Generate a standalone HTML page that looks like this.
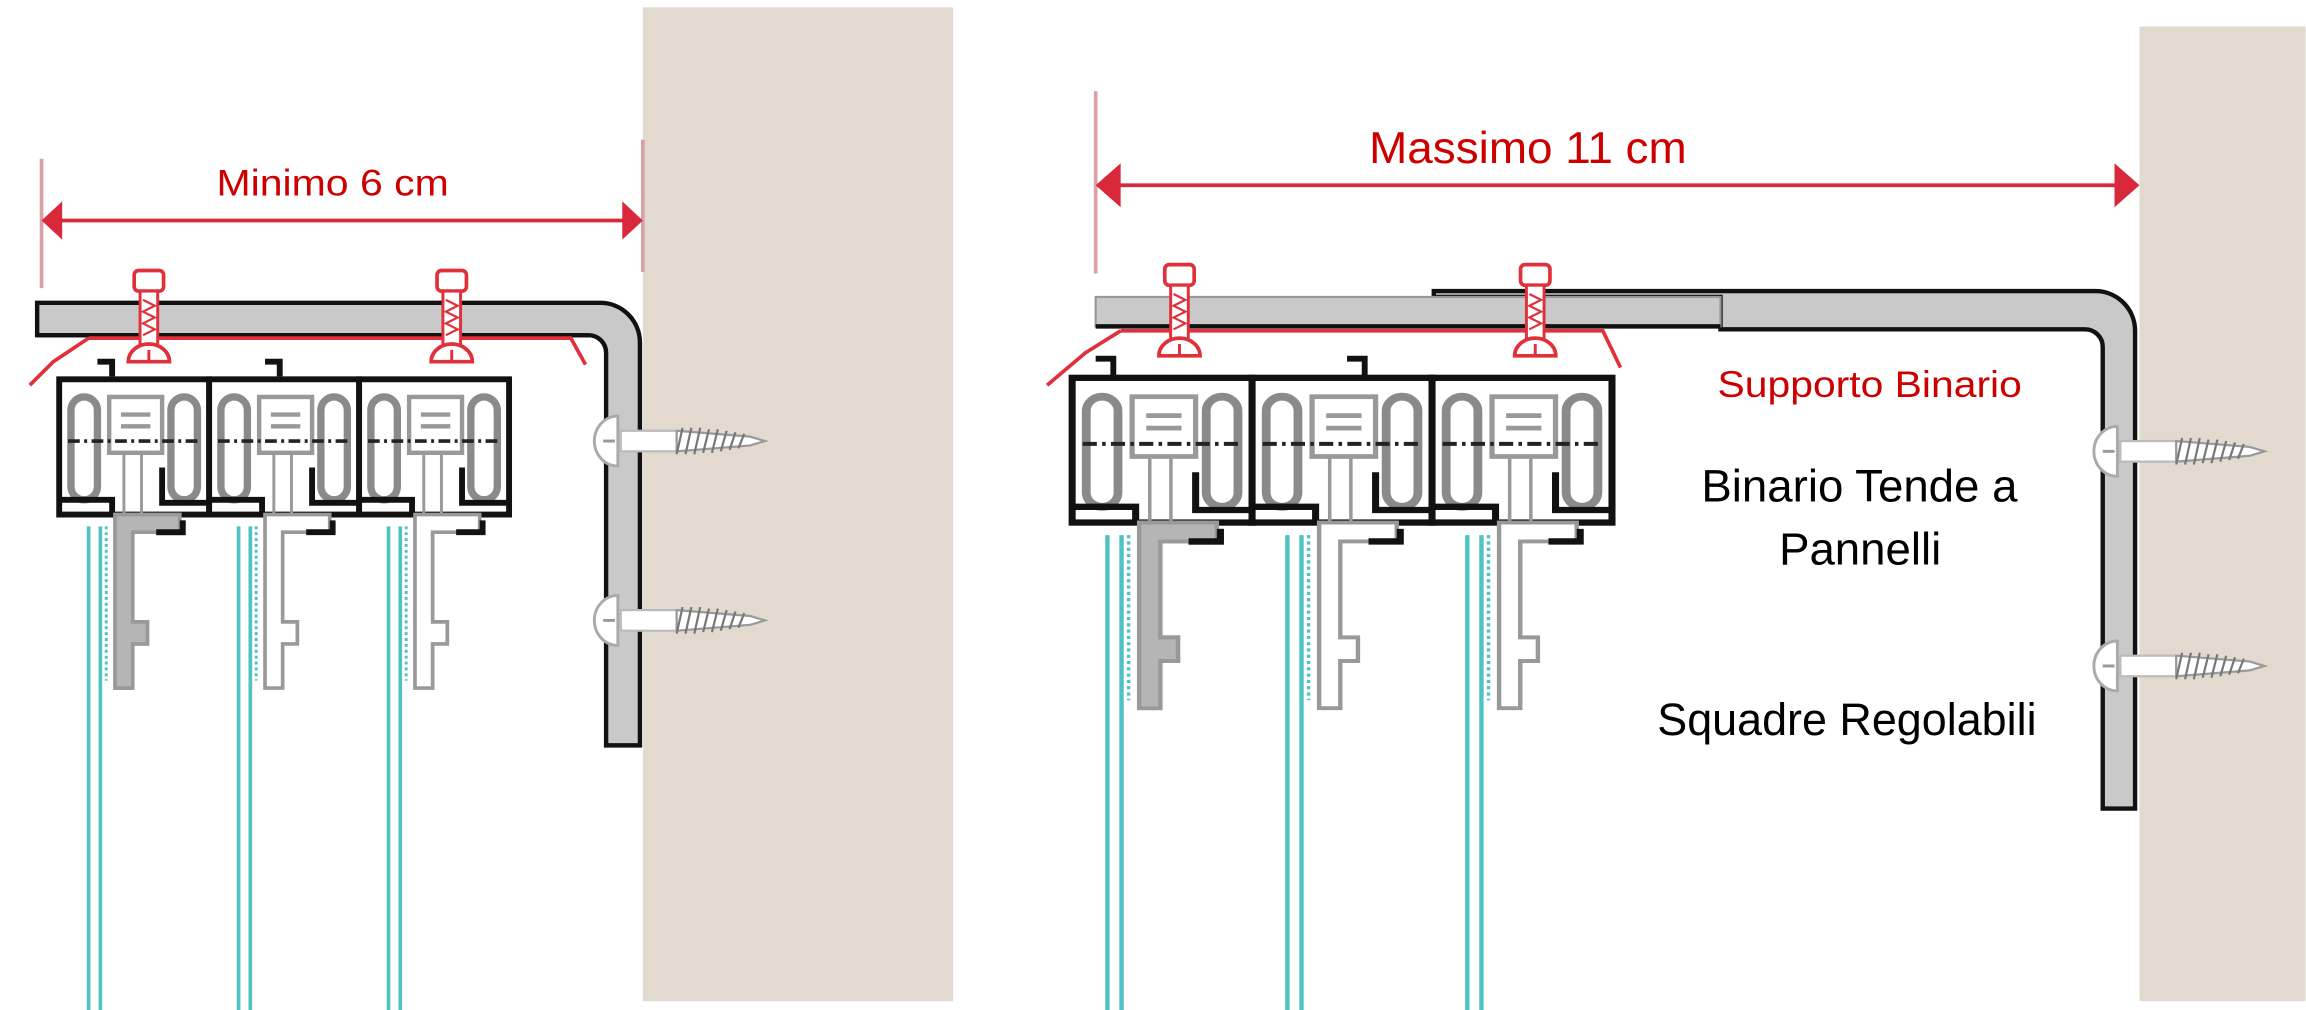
<!DOCTYPE html>
<html><head><meta charset="utf-8"><style>
html,body{margin:0;padding:0;background:#fff}
svg{display:block}
text{font-family:"Liberation Sans",sans-serif}
</style></head><body>
<svg width="2306" height="1010" viewBox="0 0 1568 687" xmlns="http://www.w3.org/2000/svg">
<defs>
<g id="unit">
  <rect x="0" y="0" width="102" height="92" fill="#fff" stroke="#111" stroke-width="4"/>
  <rect x="8" y="12" width="18" height="70" rx="9" fill="none" stroke="#8a8a8a" stroke-width="5"/>
  <rect x="76" y="12" width="18" height="70" rx="9" fill="none" stroke="#8a8a8a" stroke-width="5"/>
  <rect x="34" y="12" width="36" height="38" fill="none" stroke="#999" stroke-width="3"/>
  <line x1="42" y1="24" x2="62" y2="24" stroke="#999" stroke-width="3"/>
  <line x1="42" y1="32" x2="62" y2="32" stroke="#999" stroke-width="3"/>
  <line x1="6" y1="42" x2="96" y2="42" stroke="#222" stroke-width="2.5" stroke-dasharray="8 3 2 3"/>
  <line x1="44" y1="50" x2="44" y2="92" stroke="#999" stroke-width="2"/>
  <line x1="56" y1="50" x2="56" y2="92" stroke="#999" stroke-width="2"/>
  <path d="M0 82 L36 82 L36 92" fill="none" stroke="#111" stroke-width="4"/>
  <path d="M70 60 L70 84 L102 84" fill="none" stroke="#111" stroke-width="4"/>
  <path d="M38 92 H82 V104 H50 V165 H60 V180 H50 V210 H38 Z" fill="#fff" stroke="#999" stroke-width="2.5"/>
  <path d="M66 104 H84 V96" fill="none" stroke="#111" stroke-width="4"/>
  <line x1="20" y1="100" x2="20" y2="430" stroke="#4fc2c4" stroke-width="2.5"/>
  <line x1="28" y1="100" x2="28" y2="430" stroke="#4fc2c4" stroke-width="2.5"/>
  <line x1="32" y1="100" x2="32" y2="205" stroke="#4fc2c4" stroke-width="2" stroke-dasharray="2 2"/>
</g>
<g id="unitg">
  <use href="#unit"/>
  <path d="M38 92 H82 V104 H50 V165 H60 V180 H50 V210 H38 Z" fill="#b5b5b5" stroke="#999" stroke-width="2.5"/>
  <path d="M66 104 H84 V96" fill="none" stroke="#111" stroke-width="4"/>
</g>
<g id="screw">
  <path d="M0 -17 A16 17 0 0 0 0 17 Z" fill="#fff" stroke="#aaa" stroke-width="2"/>
  <line x1="-10" y1="0" x2="-2" y2="0" stroke="#999" stroke-width="2"/>
  <rect x="2" y="-7" width="38" height="14" fill="#fff" stroke="#bbb" stroke-width="1.5"/>
  <path d="M40 -7 L90 -3 L100 0 L90 3 L40 7 Z" fill="#fff" stroke="#999" stroke-width="1.5"/>
  <path d="M44 -9 l-4 18 M50 -9 l-4 18 M56 -9 l-4 18 M62 -8 l-4 16 M68 -8 l-4 16 M74 -7 l-4 14 M80 -6 l-4 12 M86 -5 l-4 10" stroke="#777" stroke-width="1.5"/>
</g>
<g id="bolt">
  <rect x="-10" y="-20" width="20" height="14" rx="3" fill="none" stroke="#e0303a" stroke-width="2.5"/>
  <rect x="-6" y="-6" width="12" height="38" fill="#fff" stroke="#e0303a" stroke-width="2"/>
  <path d="M-4 0 l8 4 l-8 4 l8 4 l-8 4 l8 4 l-8 4" fill="none" stroke="#e0303a" stroke-width="1.5"/>
  <path d="M-14 42 A14 12 0 0 1 14 42 Z" fill="#fff" stroke="#e0303a" stroke-width="2.5"/>
  <line x1="0" y1="34" x2="0" y2="42" stroke="#e0303a" stroke-width="2"/>
</g>
</defs>

<!-- LEFT -->
<rect x="437" y="5" width="211" height="676" fill="#e2dace"/>
<line x1="28" y1="108" x2="28" y2="196" stroke="#d9a0a8" stroke-width="2.5"/>
<line x1="437" y1="95" x2="437" y2="185" stroke="#d9a0a8" stroke-width="2.5"/>
<line x1="38" y1="150" x2="428" y2="150" stroke="#d8283a" stroke-width="2.5"/>
<path d="M28 150 L42 137 L42 163 Z" fill="#d8283a"/>
<path d="M437 150 L423 137 L423 163 Z" fill="#d8283a"/>
<text x="147" y="133" textLength="158" lengthAdjust="spacingAndGlyphs" font-size="25" fill="#c00">Minimo 6 cm</text>

<path d="M25 206 H408 A27 27 0 0 1 435 233 V507 H412 V240 A12 12 0 0 0 400 228 H25 Z" fill="#c9c9c9" stroke="#111" stroke-width="3"/>
<path d="M25 228 H400" stroke="#111" stroke-width="3"/>
<path d="M60 230 H388 L398 248 M60 230 L36 246 L20 262" fill="none" stroke="#e0303a" stroke-width="2.5"/>
<use href="#bolt" x="101" y="204"/>
<use href="#bolt" x="307" y="204"/>
<path d="M66 246 H76 V256 M180 246 H190 V256" fill="none" stroke="#111" stroke-width="4"/>
<g transform="translate(40,258)">
  <use href="#unitg" x="0" y="0"/><use href="#unit" x="102" y="0"/><use href="#unit" x="204" y="0"/>
</g>
<use href="#screw" x="420" y="300"/>
<use href="#screw" x="420" y="422"/>

<!-- RIGHT -->
<rect x="1455" y="18" width="113" height="663" fill="#e2dace"/>
<line x1="745" y1="62" x2="745" y2="186" stroke="#d9a0a8" stroke-width="2.5"/>
<line x1="756" y1="126" x2="1445" y2="126" stroke="#d8283a" stroke-width="2.5"/>
<path d="M745 126 L762 111 L762 141 Z" fill="#d8283a"/>
<path d="M1455 126 L1438 111 L1438 141 Z" fill="#d8283a"/>
<text x="931" y="111" textLength="216" lengthAdjust="spacingAndGlyphs" font-size="30" fill="#c00">Massimo 11 cm</text>

<path d="M975 198 H1425 A27 27 0 0 1 1452 225 V550 H1430 V236 A12 12 0 0 0 1418 224 H1170 V202 H975 Z" fill="#c9c9c9" stroke="#111" stroke-width="3"/>
<rect x="745" y="202" width="425" height="20" fill="#c9c9c9" stroke="#999" stroke-width="1.5"/>
<line x1="745" y1="222" x2="1170" y2="222" stroke="#111" stroke-width="3"/>
<path d="M762 225 H1090 L1102 250 M762 225 L738 240 L712 262" fill="none" stroke="#e0303a" stroke-width="2.5"/>
<use href="#bolt" x="802" y="200"/>
<use href="#bolt" x="1044" y="200"/>
<path d="M745 244 H757 V256 M916 244 H928 V256" fill="none" stroke="#111" stroke-width="4"/>
<g transform="translate(729,257) scale(1.2,1.07)">
  <use href="#unitg" x="0" y="0"/><use href="#unit" x="102" y="0"/><use href="#unit" x="204" y="0"/>
</g>
<use href="#screw" x="1440" y="307"/>
<use href="#screw" x="1440" y="453"/>

<text x="1168" y="270" textLength="207" lengthAdjust="spacingAndGlyphs" font-size="25" fill="#c00">Supporto Binario</text>
<text x="1157" y="341" textLength="215" lengthAdjust="spacingAndGlyphs" font-size="31" fill="#000">Binario Tende a</text>
<text x="1265" y="384" text-anchor="middle" font-size="31" fill="#000">Pannelli</text>
<text x="1127" y="500" textLength="258" lengthAdjust="spacingAndGlyphs" font-size="31" fill="#000">Squadre Regolabili</text>
</svg>
</body></html>
